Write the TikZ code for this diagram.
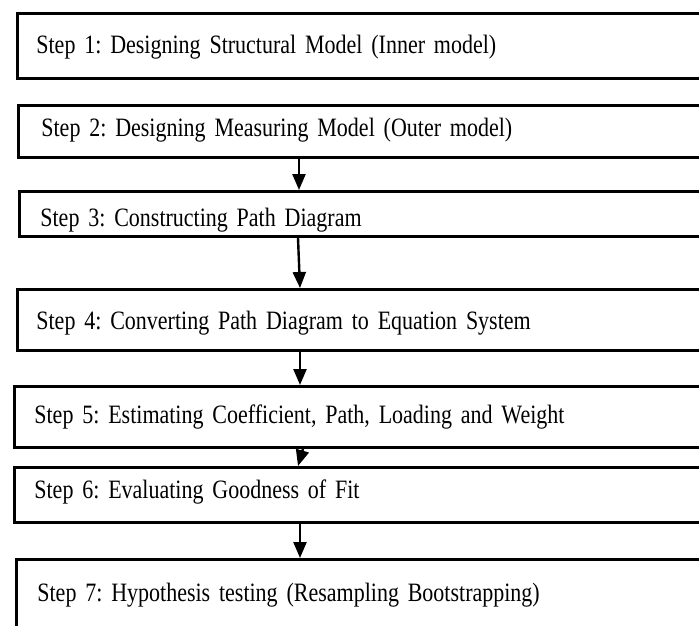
\documentclass[tikz,border=0pt]{standalone}
\usepackage{fontspec}
\setmainfont{Liberation Serif}[FakeStretch=0.83]
\usetikzlibrary{arrows.meta,calc}
\frenchspacing
\newcommand{\stepfont}{\fontsize{26.5}{30}\selectfont\fontdimen2\font=5pt\fontdimen3\font=0pt\fontdimen4\font=0pt}
\tikzset{stepbox/.style={draw, line width=2.8pt, anchor=north west, inner ysep=0pt,
  text width=690pt, align=left, text depth=5pt, font=\stepfont}}
\tikzset{flow/.style={line width=2.4pt, -{Triangle[length=16pt,width=13pt]}}}

\begin{document}
\begin{tikzpicture}[x=1pt,y=-1pt]
 \useasboundingbox (0,0) rectangle (699,625);
 \clip (0,0) rectangle (699,625);
%
 \node[stepbox, minimum height=65pt, inner xsep=19pt, text height=20pt] (s1) at (16,12) {Step 1: Designing Structural Model (Inner model)};
 \node[stepbox, minimum height=52pt, inner xsep=23pt, text height=16pt] (s2) at (17,104) {Step 2: Designing Measuring Model (Outer model)};
 \node[stepbox, minimum height=45pt, inner xsep=21pt, text height=30pt] (s3) at (18,190) {Step 3: Constructing Path Diagram};
 \node[stepbox, minimum height=61pt, inner xsep=19pt, text height=24pt] (s4) at (16,288) {Step 4: Converting Path Diagram to Equation System};
 \node[stepbox, minimum height=61pt, inner xsep=20pt, text height=19pt] (s5) at (13,385) {Step 5: Estimating Coefficient, Path, Loading and Weight};
 \node[stepbox, minimum height=55pt, inner xsep=20pt, text height=13pt] (s6) at (13,466) {Step 6: Evaluating Goodness of Fit};
 \node[stepbox, minimum height=72pt, inner xsep=21pt, text height=18pt] (s7) at (15,558) {Step 7: Hypothesis testing (Resampling Bootstrapping)};
%
 \coordinate (col) at (300,0);
 \draw[flow] ($(s2.south -| col)+(-1,-3)$) -- ($(s3.north -| col)+(-1,0)$);
 \draw[flow] ($(s3.south -| col)+(-2,0)$) -- (s4.north -| col);
 \draw[flow] (s4.south -| col) -- (s5.north -| col);
 \draw[flow] ($(s5.south -| col)+(3,0)$) -- ($(s6.north -| col)+(-2,0)$);
 \draw[flow] (s6.south -| col) -- (s7.north -| col);
\end{tikzpicture}
\end{document}
